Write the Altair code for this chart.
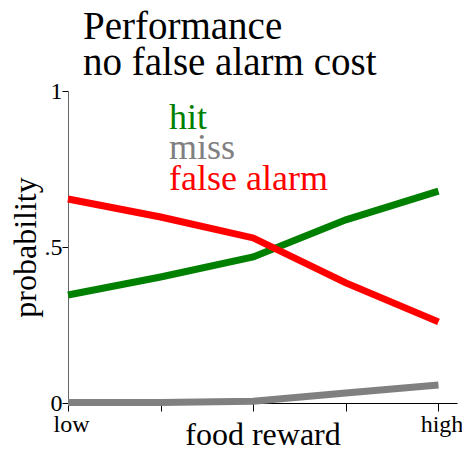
import altair as alt
import pandas as pd

steps = [0, 1, 2, 3, 4]
hit = [0.346, 0.404, 0.468, 0.587, 0.679]
miss = [0.002, 0.002, 0.006, 0.032, 0.058]
false_alarm = [0.654, 0.596, 0.529, 0.385, 0.260]
series = ["hit", "miss", "false alarm"]
colors = ["#008000", "#808080", "#ff0000"]
x_labels = ["low", "high"]
title_lines = ["Performance", "no false alarm cost"]

rows = []
for name, vals in zip(series, [hit, miss, false_alarm]):
    for s, v in zip(steps, vals):
        rows.append({"step": s, "p": v, "series": name})
df = pd.DataFrame(rows)

FONT = "Liberation Serif"

x_enc = alt.X("step:Q", scale=alt.Scale(domain=[0, 4.2], nice=False, zero=False),
              axis=alt.Axis(values=steps, title="food reward", grid=False,
                            labelExpr="datum.value == 0 ? '%s' : (datum.value == 4 ? '%s' : '')" % (x_labels[0], x_labels[1]),
                            domainColor="black", tickColor="black", tickSize=8,
                            labelFontSize=24, titleFontSize=32, labelPadding=1,
                            labelFlush=False, labelOffset=3,
                            titleBaseline="alphabetic", titleY=41,
                            labelFont=FONT, titleFont=FONT, titleFontWeight="normal",
                            labelColor="black", titleColor="black"))
y_enc = alt.Y("p:Q", scale=alt.Scale(domain=[0, 1], nice=False),
              axis=alt.Axis(values=[0, 0.5, 1], title="probability", grid=False,
                            labelExpr="datum.value == 0 ? '0' : (datum.value == 1 ? '1' : '.5')",
                            domainColor="#666666", tickColor="black", tickSize=6,
                            labelFontSize=24, titleFontSize=32, labelPadding=0,
                            titleBaseline="middle", titleX=-43, titleY=156,
                            labelFont=FONT, titleFont=FONT, titleFontWeight="normal",
                            labelColor="black", titleColor="black"))

lines = alt.Chart(df).mark_line(strokeWidth=7, strokeCap="butt").encode(
    x=x_enc, y=y_enc,
    color=alt.Color("series:N", scale=alt.Scale(domain=series, range=colors), legend=None),
    order=alt.Order("step:Q"),
    detail="series:N",
)

legend_y = [38, 68, 99]
legend_layers = []
for name, col, yy in zip(series, colors, legend_y):
    legend_layers.append(
        alt.Chart(pd.DataFrame({"t": [name]})).mark_text(
            align="left", baseline="alphabetic", font=FONT, fontSize=36, color=col
        ).encode(text="t:N", x=alt.value(101), y=alt.value(yy))
    )

chart = alt.layer(lines, *legend_layers).properties(
    width=389, height=312,
    title=alt.TitleParams(title_lines, anchor="start", frame="group", font=FONT, fontSize=39,
                          fontWeight="normal", color="black", dx=15, offset=0, dy=4, lineHeight=36),
    autosize=alt.AutoSizeParams(type="none"),
    padding={"left": 60, "top": 83, "right": 5, "bottom": 42},
).configure_view(stroke=None)

chart.save("out.html", embed_options={"renderer": "svg", "actions": False})
